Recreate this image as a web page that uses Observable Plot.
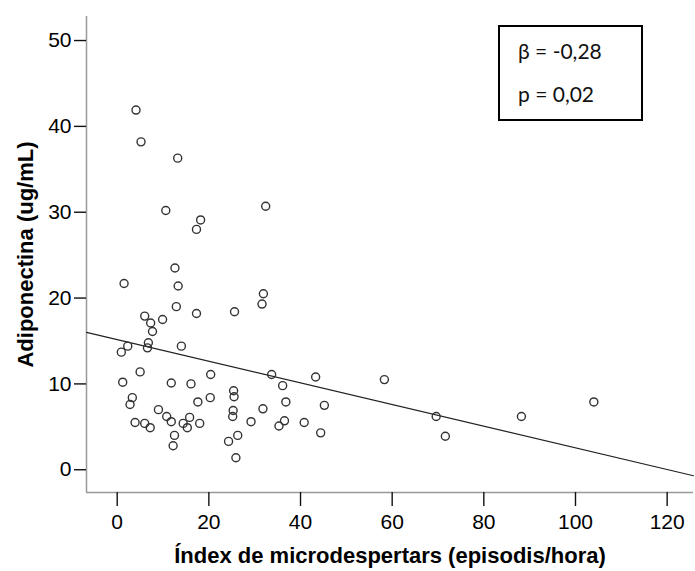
<!DOCTYPE html>
<html>
<head>
<meta charset="utf-8">
<script src="https://cdn.jsdelivr.net/npm/d3@7"></script>
<script src="https://cdn.jsdelivr.net/npm/@observablehq/plot@0.6"></script>
<style>
  html, body { margin: 0; padding: 0; background: #fff; }
  #wrap { position: relative; width: 695px; height: 571px; }
  #stats {
    position: absolute; left: 498px; top: 25px; width: 141px; height: 92px;
    border: 2px solid #000; font-family: "Lato", "Open Sans", sans-serif; font-size: 21px; color: #111;
  }
  #stats div { position: absolute; left: 18px; line-height: 1; }
</style>
</head>
<body>
<div id="wrap">
  <div id="chart"></div>
  <div id="stats"><div id="beta" style="top:13px">β = -0,28</div><div id="pval" style="top:56px">p = 0,02</div></div>
</div>
<script>
// Índex de microdespertars (episodis/hora)
const microdespertars = [
  4.1, 5.2, 13.2, 10.6, 32.4, 18.2, 17.3,
  12.6, 1.5, 13.3, 31.9, 31.6, 12.9, 17.3, 25.6, 6.0, 9.9, 7.3, 7.7,
  0.9, 2.3, 6.8, 6.6, 14.0, 5.0, 20.4, 33.7, 43.3, 1.2, 11.8, 16.1, 36.1,
  25.4, 25.5, 3.3, 20.3, 2.8, 17.6, 36.8, 45.2, 9.0, 31.8, 25.3, 25.2,
  10.8, 15.8, 11.8, 3.9, 6.0, 7.2, 14.4, 15.3, 18.0, 29.2, 35.3, 36.5,
  40.8, 12.5, 26.3, 44.4, 12.2, 24.3, 25.9,
  58.3, 69.6, 71.6, 88.2, 104.0
];
// Adiponectina (ug/mL)
const adiponectina = [
  41.9, 38.2, 36.3, 30.2, 30.7, 29.1, 28.0,
  23.5, 21.7, 21.4, 20.5, 19.3, 19.0, 18.2, 18.4, 17.9, 17.5, 17.1, 16.1,
  13.7, 14.4, 14.8, 14.2, 14.4, 11.4, 11.1, 11.1, 10.8, 10.2, 10.1, 10.0, 9.8,
  9.2, 8.5, 8.4, 8.4, 7.6, 7.9, 7.9, 7.5, 7.0, 7.1, 6.9, 6.2,
  6.2, 6.1, 5.6, 5.5, 5.4, 4.9, 5.4, 4.9, 5.4, 5.6, 5.1, 5.7,
  5.5, 4.0, 4.0, 4.3, 2.8, 3.3, 1.4,
  10.5, 6.2, 3.9, 6.2, 7.9
];
// fitted line (intercept, slope)
const fitIntercept = 15.15;
const fitSlope = -0.126;

const xTicks = [0, 20, 40, 60, 80, 100, 120];
const yTicks = [0, 10, 20, 30, 40, 50];
const xDomain = [-6.7, 125.75];
const yDomain = [-2.65, 52.8];
const xTitle = "Índex de microdespertars (episodis/hora)";
const yTitle = "Adiponectina (ug/mL)";

const points = microdespertars.map((x, i) => ({x, y: adiponectina[i]}));
const fitLine = xDomain.map(x => ({x, y: fitIntercept + fitSlope * x}));

const chart = Plot.plot({
  width: 695,
  height: 571,
  marginLeft: 86,
  marginTop: 16,
  marginBottom: 79,
  marginRight: 2,
  style: {fontFamily: "'Liberation Sans', Arial, sans-serif", fontSize: "21px", color: "#000", background: "#fff"},
  x: {domain: xDomain},
  y: {domain: yDomain},
  marks: [
    Plot.ruleX([xDomain[0]], {stroke: "#999", strokeWidth: 1.5}),
    Plot.ruleY([yDomain[0]], {stroke: "#999", strokeWidth: 1.5}),
    Plot.axisY(yTicks, {tickSize: 12, tickPadding: 3, stroke: "#111", strokeWidth: 1.4, label: null, fill: "#000"}),
    Plot.axisX(xTicks, {tickSize: 14, tickPadding: 8, stroke: "#111", strokeWidth: 1.4, label: null, fill: "#000"}),
    Plot.line(fitLine, {x: "x", y: "y", stroke: "#222", strokeWidth: 1.2}),
    Plot.dot(points, {x: "x", y: "y", r: 4, stroke: "#333", strokeWidth: 1.4, fill: "none"}),
    Plot.text([yTitle], {frameAnchor: "left", dx: -61, rotate: -90, textAnchor: "middle", lineAnchor: "middle", fontSize: 22, fontWeight: "bold", fill: "#000"}),
    Plot.text([xTitle], {frameAnchor: "bottom", dy: 63, textAnchor: "middle", lineAnchor: "middle", fontSize: 22, fontWeight: "bold", fill: "#000"})
  ]
});
document.getElementById("chart").appendChild(chart);
</script>
</body>
</html>
